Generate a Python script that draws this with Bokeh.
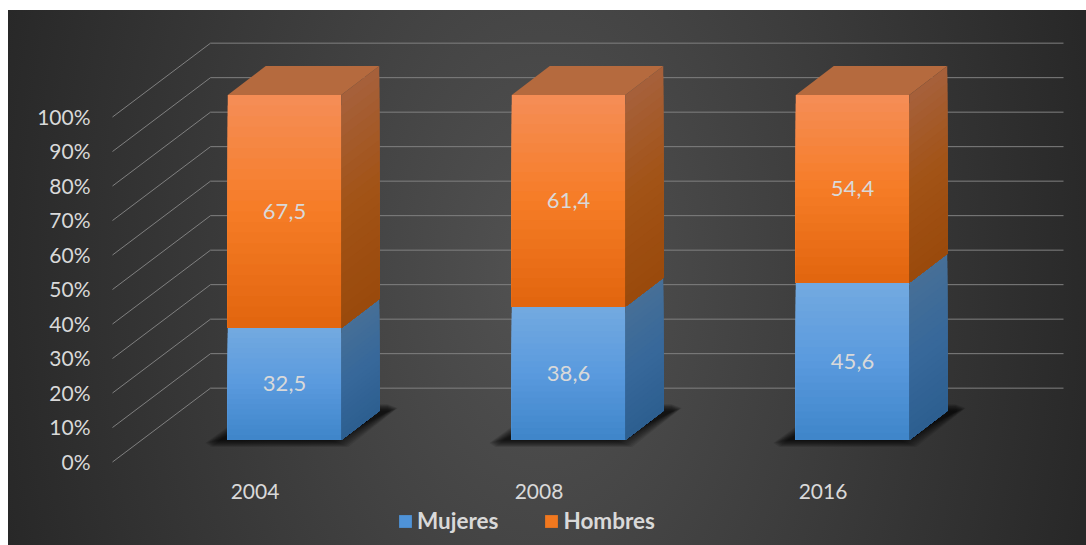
from bokeh.plotting import figure
from bokeh.embed import file_html
from bokeh.resources import INLINE
from bokeh.models import Range1d, LinearAxis, FixedTicker, Legend, LegendItem
from bokeh.core.properties import value

years = ["2004", "2008", "2016"]
mujeres = [32.5, 38.6, 45.6]
hombres = [67.5, 61.4, 54.4]
ticks = list(range(0, 101, 10))
tick_labels = [f"{t}%" for t in ticks]

FONT = "Lato"
TXT = "#d9d9d9"
GRID = "#808080"

# geometry of the pseudo-3D view, in axis units
PX_Y = 3.45
PX_X = 284.0
Y0 = 460.5
X0 = 254.5
W, H = 1086, 545
LEFT, RIGHT, TOP, BOTTOM = 98, 1086, 10, 545

p = figure(width=W, height=H, output_backend="svg", toolbar_location=None,
           x_range=Range1d((LEFT - X0) / PX_X, (RIGHT - X0) / PX_X),
           y_range=Range1d((Y0 - BOTTOM) / PX_Y, (Y0 - TOP) / PX_Y),
           x_axis_location=None, y_axis_location=None,
           min_border_left=LEFT, min_border_right=0,
           min_border_top=TOP, min_border_bottom=0)
p.grid.visible = False
p.outline_line_color = None
p.background_fill_color = None
p.border_fill_color = None
p.styles = {"background": "linear-gradient(#ffffff 10px, transparent 10px), "
                          "linear-gradient(90deg, #ffffff 8px, transparent 8px), "
                          "radial-gradient(ellipse 560px 900px at 50% 50%, #525252 0%, #282828 100%)"}

# walls
wall_l = (112 - X0) / PX_X
wall_b = (210 - X0) / PX_X
wall_r = (1063 - X0) / PX_X
wall_f = (Y0 - 461.5) / PX_Y
wall_d = 21.4
p.multi_line([[wall_l, wall_b, wall_r] for _ in ticks],
             [[t + wall_f, t + wall_f + wall_d, t + wall_f + wall_d] for t in ticks],
             line_color=GRID, line_width=1)

# bars
cx_off = (284 - X0) / PX_X
bw = 113.5 / PX_X
dx = 38 / PX_X
dy = 29 / PX_Y
base = (Y0 - 439.5) / PX_Y


def hex2(c):
    return tuple(int(c[i:i + 2], 16) for i in (1, 3, 5))


def ramp(stops, t):
    n = len(stops) - 1
    k = min(int(t * n), n - 1)
    f = t * n - k
    a, b = hex2(stops[k]), hex2(stops[k + 1])
    return "#%02x%02x%02x" % tuple(round(a[i] + (b[i] - a[i]) * f) for i in range(3))


ORANGE = ["#f58d55", "#f67c26", "#e2660f"]
ORANGE_S = ["#a6603a", "#a25316", "#9a4a0c"]
ORANGE_T = "#b56a3e"
BLUE = ["#72a9e0", "#5a9ade", "#4086ca"]
BLUE_S = ["#466f97", "#37689a", "#2d5f90"]
N = 22


def shaded(x0, x1, y0, y1, front, side):
    for i in range(N):
        t = i / (N - 1)
        yt = y1 - (y1 - y0) * i / N
        p.quad(left=[x0], right=[x1], bottom=[y0], top=[yt], fill_color=ramp(front, t), line_color=None)
        p.patch([x1, x1 + dx, x1 + dx, x1], [y0, y0 + dy, yt + dy, yt], fill_color=ramp(side, t), line_color=None)


# soft drop shadow: stacked translucent outlines, corners cut more on the outer ones
shadow_grow = [7, 5.5, 4, 2.5, 1, -0.5, -2, -3.5, -5, -6.5, -8, -10]
for i in range(len(years)):
    c = i + cx_off
    x0, x1 = c - bw / 2, c + bw / 2
    for g in shadow_grow:
        gx, gy = g / PX_X, g / PX_Y
        cut = (g + 12) * 0.45
        cx, cy = cut / PX_X, cut * 0.45 / PX_Y
        lo = base - 1.2 - gy * 0.4
        hi = base + 33 / PX_Y + gy * 0.4
        xl = x0 - 18 / PX_X - gx
        xr = x1 + dx + 20 / PX_X + gx
        p.patch([xl + cx, x1 + gx, xr - cx, xr - cx * 2.2, x0 + dx - gx, xl + cx * 0.3],
                [lo, lo, hi - cy, hi, hi, lo + cy],
                fill_color="#000000", fill_alpha=0.09, line_color=None)

for i in range(len(years)):
    c = i + cx_off
    x0, x1 = c - bw / 2, c + bw / 2
    y_m = base + mujeres[i]
    y_t = y_m + hombres[i]
    shaded(x0, x1, base, y_m, BLUE, BLUE_S)
    shaded(x0, x1, y_m, y_t, ORANGE, ORANGE_S)
    p.patch([x0, x1, x1 + dx, x0 + dx], [y_t, y_t, y_t + dy, y_t + dy], fill_color=ORANGE_T, line_color=None)
    for v, mid in ((mujeres[i], base + mujeres[i] / 2), (hombres[i], y_m + hombres[i] / 2)):
        p.text([c], [mid], text=[f"{v:.1f}".replace(".", ",")], text_color=TXT,
               text_font=value(FONT), text_font_size="22px", text_align="center", text_baseline="middle")

# axes
yax = LinearAxis(ticker=FixedTicker(ticks=ticks), major_label_overrides=dict(zip(ticks, tick_labels)))
yax.axis_line_color = None
yax.major_tick_line_color = None
yax.minor_tick_line_color = None
yax.major_label_text_color = TXT
yax.major_label_text_font = FONT
yax.major_label_text_font_size = "21px"
yax.major_label_standoff = 2
p.add_layout(yax, "left")

xpos = list(range(len(years)))
xax = LinearAxis(ticker=FixedTicker(ticks=xpos), major_label_overrides=dict(zip(xpos, years)),
                 fixed_location=(Y0 - 472) / PX_Y)
xax.axis_line_color = None
xax.major_tick_line_color = None
xax.minor_tick_line_color = None
xax.major_label_text_color = TXT
xax.major_label_text_font = FONT
xax.major_label_text_font_size = "21px"
xax.major_label_standoff = 5
p.add_layout(xax, "below")

# legend
nan = float("nan")
r_m = p.quad(left=[nan], right=[nan], bottom=[nan], top=[nan], fill_color="#4f93d8", line_color=None)
r_h = p.quad(left=[nan], right=[nan], bottom=[nan], top=[nan], fill_color="#f1781f", line_color=None)
leg = Legend(items=[LegendItem(label=value("Mujeres"), renderers=[r_m]),
                    LegendItem(label=value("Hombres"), renderers=[r_h])],
             orientation="horizontal", location=(299, 11),
             glyph_width=16, glyph_height=16, label_standoff=4, spacing=45,
             padding=0, margin=0, background_fill_alpha=0, border_line_color=None,
             label_text_color=TXT, label_text_font=FONT, label_text_font_style="bold",
             label_text_font_size="22.5px", label_height=14)
p.add_layout(leg, "center")

open("out.html", "w").write(file_html(p, INLINE))
